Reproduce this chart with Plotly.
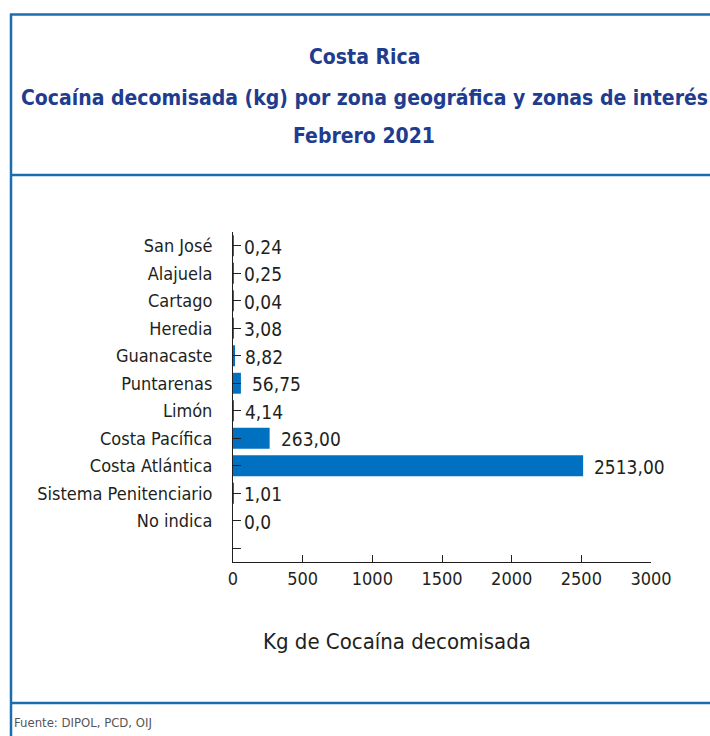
import plotly.graph_objects as go

categories = ["San José", "Alajuela", "Cartago", "Heredia", "Guanacaste", "Puntarenas",
              "Limón", "Costa Pacífica", "Costa Atlántica", "Sistema Penitenciario", "No indica", " "]
values = [0.24, 0.25, 0.04, 3.08, 8.82, 56.75, 4.14, 263.00, 2513.00, 1.01, 0.0, None]
value_labels = ["0,24", "0,25", "0,04", "3,08", "8,82", "56,75", "4,14", "263,00", "2513,00", "1,01", "0,0", ""]
x_ticks = [0, 500, 1000, 1500, 2000, 2500, 3000]

W, H = 710, 736
L, R, T, B = 233, 651, 232, 562
FONT = "Liberation Sans Narrow, DejaVu Sans Condensed, Arial Narrow, sans-serif"
BLUE = "#0070C0"
BORDER = "#1B6DB0"
TITLE_C = "#1F3C8F"
TXT = "#231F20"

fig = go.Figure()
fig.add_trace(go.Bar(
    x=values, y=categories, orientation="h",
    marker=dict(color=BLUE, line=dict(width=0)),
    width=0.76, hoverinfo="x+y", showlegend=False,
))

annotations = []
for c, v, lab in zip(categories, values, value_labels):
    if v is None:
        continue
    annotations.append(dict(x=v, y=c, xref="x", yref="y", text=lab, showarrow=False,
                            xanchor="left", yanchor="middle", xshift=9, yshift=-1,
                            font=dict(family=FONT, size=19, color=TXT)))

def px(xp):
    return (xp - L) / (R - L)

def py(yp):
    return (B - yp) / (B - T)

title_lines = [("Costa Rica", 57), ("Cocaína decomisada (kg) por zona geográfica y zonas de interés", 98),
               ("Febrero 2021", 136)]
for t, yy in title_lines:
    annotations.append(dict(x=px(364), y=py(yy), xref="paper", yref="paper", text="<b>" + t + "</b>",
                            showarrow=False, xanchor="center", yanchor="middle",
                            font=dict(family=FONT, size=21, color=TITLE_C)))

annotations.append(dict(x=px(397), y=py(641), xref="paper", yref="paper", text="Kg de Cocaína decomisada",
                        showarrow=False, xanchor="center", yanchor="middle",
                        font=dict(family=FONT, size=22, color=TXT)))
annotations.append(dict(x=px(12), y=py(722), xref="paper", yref="paper", text="Fuente: DIPOL, PCD, OIJ",
                        showarrow=False, xanchor="left", yanchor="middle",
                        font=dict(family=FONT, size=13, color="#555555")))

shapes = [
    dict(type="line", xref="paper", yref="paper", x0=px(11), x1=px(11), y0=py(14), y1=py(740),
         line=dict(color=BORDER, width=2.5)),
    dict(type="line", xref="paper", yref="paper", x0=px(10), x1=px(712), y0=py(14.5), y1=py(14.5),
         line=dict(color=BORDER, width=2.5)),
    dict(type="line", xref="paper", yref="paper", x0=px(10), x1=px(712), y0=py(175), y1=py(175),
         line=dict(color=BORDER, width=2.5)),
    dict(type="line", xref="paper", yref="paper", x0=px(10), x1=px(712), y0=py(703), y1=py(703),
         line=dict(color=BORDER, width=2.5)),
]

fig.update_layout(
    width=W, height=H,
    margin=dict(l=L, r=W - R, t=T, b=H - B, pad=0),
    paper_bgcolor="white", plot_bgcolor="white",
    annotations=annotations, shapes=shapes,
    xaxis=dict(range=[0, 3000], tickvals=x_ticks, ticks="inside", ticklen=7, tickcolor=TXT,
               showline=True, linecolor=TXT, linewidth=1, showgrid=False, zeroline=False,
               tickfont=dict(family=FONT, size=18, color=TXT), fixedrange=True),
    yaxis=dict(type="category", categoryorder="array", categoryarray=categories,
               autorange=False, range=[11.5, -0.5], ticks="inside", ticklen=8, tickcolor=TXT,
               showline=True, linecolor=TXT, linewidth=1, showgrid=False, zeroline=False,
               ticklabelstandoff=16,
               tickfont=dict(family=FONT, size=18, color=TXT), fixedrange=True),
    font=dict(family=FONT, color=TXT),
)

fig.write_html("out.html", config={"displayModeBar": False},
               post_script="document.body.style.margin='0';document.body.style.overflow='hidden';")
